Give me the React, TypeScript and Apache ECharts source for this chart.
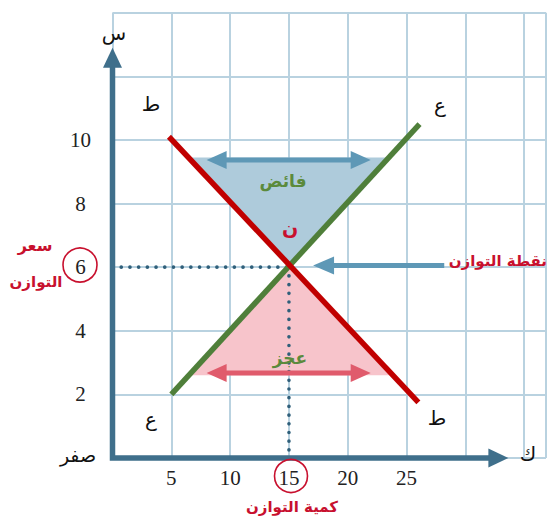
import React, { useEffect, useRef } from "react";
import * as echarts from "echarts";

// ---- data ----
const xTickValues = [5, 10, 15, 20, 25];
const yTickValues = [2, 4, 6, 8, 10];
const demandPoints = [[4.8, 10.1], [26, 1.75]]; // ط
const supplyPoints = [[5, 2], [26.1, 10.5]]; // ع
const equilibrium = [15, 6];
const surplusTriangle = [[6.4, 9.45], [23.3, 9.45], [15, 6]];
const deficitTriangle = [[6.5, 2.6], [23.6, 2.6], [15, 6]];
const surplusArrow = [[8, 9.37], [21.95, 9.37]];
const deficitArrow = [[8, 2.67], [21.95, 2.67]];
const equilibriumArrow = [[28.2, 6.05], [17.05, 6.05]];
const xAxisTip = 33.65;
const yAxisTip = 12.9;
const xMax = 36.85;
const yMax = 14;

const RED_TXT = "#c8102e";
const GREEN_TXT = "#5b8a3c";
const AR = "DejaVu Sans";

function arrowShapes(p1: number[], p2: number[], o: any) {
  const dx = p2[0] - p1[0];
  const dy = p2[1] - p1[1];
  const len = Math.hypot(dx, dy) || 1;
  const ux = dx / len, uy = dy / len;
  const nx = -uy, ny = ux;
  const children: any[] = [];
  let s = p1, e = p2;
  const head = (tip: number[], dirx: number, diry: number) => {
    const bx = tip[0] - dirx * o.headLen, by = tip[1] - diry * o.headLen;
    children.push({
      type: "polygon",
      shape: {
        points: [
          tip,
          [bx + nx * o.headWidth / 2, by + ny * o.headWidth / 2],
          [bx - nx * o.headWidth / 2, by - ny * o.headWidth / 2],
        ],
      },
      style: { fill: o.color },
    });
  };
  if (o.headEnd) {
    head(p2, ux, uy);
    e = [p2[0] - ux * o.headLen * 0.9, p2[1] - uy * o.headLen * 0.9];
  }
  if (o.headStart) {
    head(p1, -ux, -uy);
    s = [p1[0] + ux * o.headLen * 0.9, p1[1] + uy * o.headLen * 0.9];
  }
  children.unshift({
    type: "line",
    shape: { x1: s[0], y1: s[1], x2: e[0], y2: e[1] },
    style: { stroke: o.color, lineWidth: o.width, lineDash: o.dash || null, lineCap: o.cap || "butt" },
  });
  return children;
}

function segmentSeries(data: number[][][], o: any, z: number) {
  return {
    type: "custom",
    z,
    silent: true,
    encode: { x: [0, 2], y: [1, 3] },
    data: data.map((seg) => [seg[0][0], seg[0][1], seg[1][0], seg[1][1]]),
    renderItem: (params: any, api: any) => {
      const p1 = api.coord([api.value(0), api.value(1)]);
      const p2 = api.coord([api.value(2), api.value(3)]);
      return { type: "group", children: arrowShapes(p1, p2, o) };
    },
  };
}

function triangleSeries(tri: number[][], color: string, z: number) {
  return {
    type: "custom",
    z,
    silent: true,
    encode: { x: [0, 2, 4], y: [1, 3, 5] },
    data: [tri.flat()],
    renderItem: (params: any, api: any) => {
      const pts = [0, 1, 2].map((i) => api.coord([api.value(2 * i), api.value(2 * i + 1)]));
      return { type: "polygon", shape: { points: pts }, style: { fill: color } };
    },
  };
}

export default function App() {
  const ref = useRef<HTMLDivElement>(null);
  useEffect(() => {
    const chart = echarts.init(ref.current!, null, { renderer: "svg" });
    const axisSeries = {
      type: "custom",
      z: 20,
      silent: true,
      encode: { x: 0, y: 1 },
      data: [[0, 0]],
      renderItem: (params: any, api: any) => {
        const o = api.coord([0, 0]);
        const yt = api.coord([0, yAxisTip]);
        const xt = api.coord([xAxisTip, 0]);
        const col = "#3f6f8b";
        const hl = 20, hw = 19;
        return {
          type: "group",
          children: [
            {
              type: "polyline",
              shape: { points: [[o[0], yt[1] + hl - 2], [o[0], o[1]], [xt[0] - hl + 2, o[1]]] },
              style: { stroke: col, lineWidth: 5.5, fill: "none", lineJoin: "miter" },
            },
            { type: "polygon", shape: { points: [[yt[0], yt[1]], [yt[0] - hw / 2, yt[1] + hl], [yt[0] + hw / 2, yt[1] + hl]] }, style: { fill: col } },
            { type: "polygon", shape: { points: [[xt[0], xt[1]], [xt[0] - hl, xt[1] - hw / 2], [xt[0] - hl, xt[1] + hw / 2]] }, style: { fill: col } },
          ],
        };
      },
    };

    const txt = (text: string, x: number, y: number, fontSize: number, fill: string, bold = false, align = "center") => ({
      type: "text",
      x,
      y,
      z: 100,
      style: { text, fontSize, fontFamily: AR, fontWeight: bold ? "bold" : "normal", fill, align, verticalAlign: "middle" },
    });

    chart.setOption({
      animation: false,
      backgroundColor: "#ffffff",
      grid: { left: 112.5, right: 0, top: 12.7, bottom: 62, containLabel: false },
      xAxis: {
        type: "value",
        min: 0,
        max: xMax,
        interval: 5,
        axisLine: { show: false },
        axisTick: { show: false },
        splitLine: { show: true, lineStyle: { color: "#b9d2e0", width: 2 } },
        axisLabel: {
          margin: 9,
          fontFamily: "Liberation Serif",
          fontSize: 21,
          color: "#222",
          formatter: (v: number) => (xTickValues.includes(v) ? String(v) : ""),
        },
      },
      yAxis: {
        type: "value",
        min: 0,
        max: yMax,
        interval: 2,
        axisLine: { show: false },
        axisTick: { show: false },
        splitLine: { show: true, lineStyle: { color: "#b9d2e0", width: 2 } },
        axisLabel: {
          margin: 32,
          align: "center",
          fontFamily: "Liberation Serif",
          fontSize: 21,
          color: "#222",
          formatter: (v: number) => (yTickValues.includes(v) ? String(v) : ""),
        },
      },
      series: [
        triangleSeries(surplusTriangle, "#aecbdb", 2),
        triangleSeries(deficitTriangle, "#f7c4cb", 2),
        segmentSeries(
          [[[0, equilibrium[1]], equilibrium], [equilibrium, [equilibrium[0], 0]]],
          { color: "#2f5f7a", width: 3.6, dash: [0.1, 8.6], cap: "round", headLen: 0, headWidth: 0 },
          4
        ),
        segmentSeries([surplusArrow], { color: "#5e98b6", width: 5, headStart: true, headEnd: true, headLen: 20, headWidth: 18 }, 6),
        segmentSeries([deficitArrow], { color: "#e05b6c", width: 5, headStart: true, headEnd: true, headLen: 20, headWidth: 18 }, 6),
        segmentSeries([equilibriumArrow], { color: "#5e98b6", width: 5, headEnd: true, headLen: 21, headWidth: 18 }, 6),
        {
          type: "line",
          z: 8,
          data: supplyPoints,
          symbol: "none",
          silent: true,
          lineStyle: { color: "#4f7f3a", width: 5.5 },
        },
        {
          type: "line",
          z: 9,
          data: demandPoints,
          symbol: "none",
          silent: true,
          lineStyle: { color: "#c00000", width: 5.5 },
        },
        axisSeries,
      ],
      graphic: [
        txt("س", 114, 33, 20, "#111"),
        txt("ك", 528, 454, 20, "#111"),
        txt("صفر", 78, 455, 19, "#111"),
        txt("ط", 151, 104, 20, "#111"),
        txt("ع", 440, 105, 20, "#111"),
        txt("ع", 151, 419, 20, "#111"),
        txt("ط", 437, 418, 20, "#111"),
        txt("فائض", 283, 181, 17, GREEN_TXT, true),
        txt("ن", 290, 228, 19, RED_TXT, true),
        txt("عجز", 290, 358, 17, GREEN_TXT, true),
        txt("سعر", 35, 245, 16, RED_TXT, true),
        txt("التوازن", 36, 282, 15, RED_TXT, true),
        txt("كمية التوازن", 292, 507, 15, RED_TXT, true),
        txt("نقطة التوازن", 547, 261, 15, RED_TXT, true, "right"),
        {
          type: "circle",
          z: 100,
          shape: { cx: 80, cy: 265, r: 17 },
          style: { fill: "none", stroke: RED_TXT, lineWidth: 1.6 },
        },
        {
          type: "circle",
          z: 100,
          shape: { cx: 291, cy: 476, r: 16.5 },
          style: { fill: "none", stroke: RED_TXT, lineWidth: 1.6 },
        },
      ],
    });
    return () => chart.dispose();
  }, []);
  return <div ref={ref} style={{ position: "absolute", left: 0, top: 0, width: 549, height: 520 }} />;
}
